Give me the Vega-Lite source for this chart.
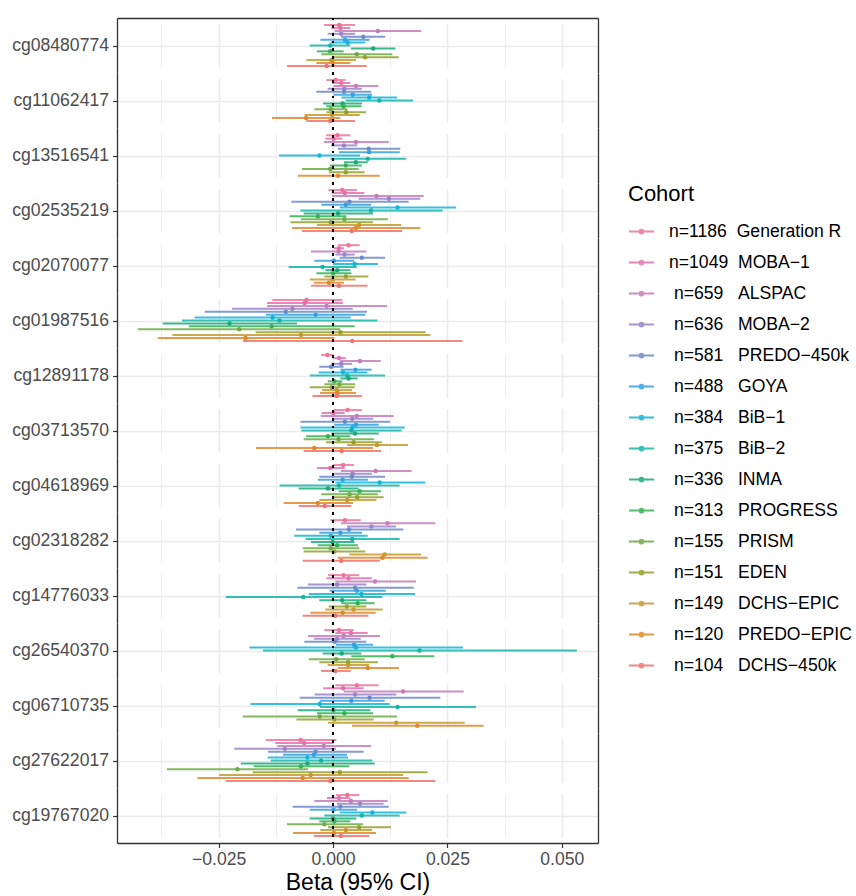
{
"$schema": "https://vega.github.io/schema/vega-lite/v6.json",
"padding": {"left": 5, "top": 17, "right": 0, "bottom": 0},
"bounds": "flush",
"config": {"font": "Liberation Sans", "view": {"stroke": null}},
"data": {"values": [
{"cpg":"cg08480774","cohort":"Generation R","beta":0.00135,"lower":-0.00197,"upper":0.00481},
{"cpg":"cg08480774","cohort":"MOBA-1","beta":0.0016,"lower":-0.00036,"upper":0.00379},
{"cpg":"cg08480774","cohort":"ALSPAC","beta":0.0098,"lower":0.00036,"upper":0.0193},
{"cpg":"cg08480774","cohort":"MOBA-2","beta":0.0018,"lower":-0.00117,"upper":0.00481},
{"cpg":"cg08480774","cohort":"PREDO-450k","beta":0.0066,"lower":0.00175,"upper":0.01143},
{"cpg":"cg08480774","cohort":"GOYA","beta":0.0026,"lower":-0.00277,"upper":0.00801},
{"cpg":"cg08480774","cohort":"BiB-1","beta":0.0032,"lower":-0.00051,"upper":0.00706},
{"cpg":"cg08480774","cohort":"BiB-2","beta":-0.0006,"lower":-0.0051,"upper":0.00379},
{"cpg":"cg08480774","cohort":"INMA","beta":0.0088,"lower":0.00393,"upper":0.01362},
{"cpg":"cg08480774","cohort":"PROGRESS","beta":-0.0006,"lower":-0.0035,"upper":0.00233},
{"cpg":"cg08480774","cohort":"PRISM","beta":0.0052,"lower":-0.00255,"upper":0.01296},
{"cpg":"cg08480774","cohort":"EDEN","beta":0.007,"lower":-0.00022,"upper":0.01435},
{"cpg":"cg08480774","cohort":"DCHS-EPIC","beta":-0.0004,"lower":-0.00583,"upper":0.00503},
{"cpg":"cg08480774","cohort":"PREDO-EPIC","beta":0.0,"lower":-0.00364,"upper":0.00379},
{"cpg":"cg08480774","cohort":"DCHS-450k","beta":-0.0014,"lower":-0.01005,"upper":0.00736},
{"cpg":"cg11062417","cohort":"Generation R","beta":0.0006,"lower":-0.00146,"upper":0.00277},
{"cpg":"cg11062417","cohort":"MOBA-1","beta":0.0018,"lower":-0.00022,"upper":0.00379},
{"cpg":"cg11062417","cohort":"ALSPAC","beta":0.005,"lower":0.00015,"upper":0.0099},
{"cpg":"cg11062417","cohort":"MOBA-2","beta":0.0025,"lower":-0.00117,"upper":0.00634},
{"cpg":"cg11062417","cohort":"PREDO-450k","beta":0.0024,"lower":-0.00364,"upper":0.00838},
{"cpg":"cg11062417","cohort":"GOYA","beta":0.0043,"lower":0.00015,"upper":0.00852},
{"cpg":"cg11062417","cohort":"BiB-1","beta":0.0079,"lower":0.00182,"upper":0.01398},
{"cpg":"cg11062417","cohort":"BiB-2","beta":0.0101,"lower":0.00277,"upper":0.01748},
{"cpg":"cg11062417","cohort":"INMA","beta":0.0021,"lower":-0.00218,"upper":0.00634},
{"cpg":"cg11062417","cohort":"PROGRESS","beta":0.0023,"lower":-0.0015,"upper":0.0062},
{"cpg":"cg11062417","cohort":"PRISM","beta":-0.0005,"lower":-0.00408,"upper":0.00306},
{"cpg":"cg11062417","cohort":"EDEN","beta":0.0029,"lower":-0.00146,"upper":0.00721},
{"cpg":"cg11062417","cohort":"DCHS-EPIC","beta":-0.0002,"lower":-0.00619,"upper":0.00583},
{"cpg":"cg11062417","cohort":"PREDO-EPIC","beta":-0.0059,"lower":-0.01333,"upper":0.0016},
{"cpg":"cg11062417","cohort":"DCHS-450k","beta":-0.0006,"lower":-0.00583,"upper":0.00481},
{"cpg":"cg13516541","cohort":"Generation R","beta":0.001,"lower":-0.0015,"upper":0.0038},
{"cpg":"cg13516541","cohort":"MOBA-1","beta":0.00015,"lower":-0.0017,"upper":0.002},
{"cpg":"cg13516541","cohort":"ALSPAC","beta":0.005,"lower":-0.002,"upper":0.0122},
{"cpg":"cg13516541","cohort":"MOBA-2","beta":0.0024,"lower":-0.0004,"upper":0.0053},
{"cpg":"cg13516541","cohort":"PREDO-450k","beta":0.0078,"lower":0.00105,"upper":0.0147},
{"cpg":"cg13516541","cohort":"GOYA","beta":0.0079,"lower":0.0013,"upper":0.0146},
{"cpg":"cg13516541","cohort":"BiB-1","beta":-0.00295,"lower":-0.0118,"upper":0.0059},
{"cpg":"cg13516541","cohort":"BiB-2","beta":0.0076,"lower":-0.00055,"upper":0.016},
{"cpg":"cg13516541","cohort":"INMA","beta":0.005,"lower":0.0024,"upper":0.0076},
{"cpg":"cg13516541","cohort":"PROGRESS","beta":0.0028,"lower":-0.0007,"upper":0.0063},
{"cpg":"cg13516541","cohort":"PRISM","beta":-0.0006,"lower":-0.0068,"upper":0.0056},
{"cpg":"cg13516541","cohort":"EDEN","beta":0.0028,"lower":-0.0009,"upper":0.0069},
{"cpg":"cg13516541","cohort":"PREDO-EPIC","beta":0.0011,"lower":-0.0077,"upper":0.0102},
{"cpg":"cg02535219","cohort":"Generation R","beta":0.002,"lower":-0.00102,"upper":0.00524},
{"cpg":"cg02535219","cohort":"MOBA-1","beta":0.0026,"lower":-0.00036,"upper":0.00685},
{"cpg":"cg02535219","cohort":"ALSPAC","beta":0.0095,"lower":-0.00022,"upper":0.01981},
{"cpg":"cg02535219","cohort":"MOBA-2","beta":0.0122,"lower":0.00561,"upper":0.01908},
{"cpg":"cg02535219","cohort":"PREDO-450k","beta":0.0036,"lower":-0.0091,"upper":0.01653},
{"cpg":"cg02535219","cohort":"GOYA","beta":0.0028,"lower":-0.00255,"upper":0.0083},
{"cpg":"cg02535219","cohort":"BiB-1","beta":0.0141,"lower":0.00146,"upper":0.02688},
{"cpg":"cg02535219","cohort":"BiB-2","beta":0.0083,"lower":-0.00714,"upper":0.02396},
{"cpg":"cg02535219","cohort":"INMA","beta":0.0011,"lower":-0.00641,"upper":0.00874},
{"cpg":"cg02535219","cohort":"PROGRESS","beta":-0.0033,"lower":-0.00947,"upper":0.00291},
{"cpg":"cg02535219","cohort":"PRISM","beta":0.0025,"lower":-0.007,"upper":0.012},
{"cpg":"cg02535219","cohort":"EDEN","beta":-0.0005,"lower":-0.00932,"upper":0.00874},
{"cpg":"cg02535219","cohort":"DCHS-EPIC","beta":0.0057,"lower":-0.0035,"upper":0.01493},
{"cpg":"cg02535219","cohort":"PREDO-EPIC","beta":0.005,"lower":-0.00896,"upper":0.01908},
{"cpg":"cg02535219","cohort":"DCHS-450k","beta":0.0041,"lower":-0.00677,"upper":0.01508},
{"cpg":"cg02070077","cohort":"Generation R","beta":0.0034,"lower":0.00109,"upper":0.00583},
{"cpg":"cg02070077","cohort":"MOBA-1","beta":0.0013,"lower":0.0002,"upper":0.0024},
{"cpg":"cg02070077","cohort":"ALSPAC","beta":0.0012,"lower":-0.00481,"upper":0.00728},
{"cpg":"cg02070077","cohort":"MOBA-2","beta":0.0025,"lower":0.00051,"upper":0.00473},
{"cpg":"cg02070077","cohort":"PREDO-450k","beta":0.0063,"lower":0.00146,"upper":0.01136},
{"cpg":"cg02070077","cohort":"GOYA","beta":0.0002,"lower":-0.00408,"upper":0.00466},
{"cpg":"cg02070077","cohort":"BiB-1","beta":0.0047,"lower":0.0,"upper":0.00983},
{"cpg":"cg02070077","cohort":"BiB-2","beta":-0.0023,"lower":-0.00969,"upper":0.0052},
{"cpg":"cg02070077","cohort":"INMA","beta":0.0009,"lower":-0.00168,"upper":0.00379},
{"cpg":"cg02070077","cohort":"PROGRESS","beta":0.0,"lower":-0.00364,"upper":0.00401},
{"cpg":"cg02070077","cohort":"EDEN","beta":0.0028,"lower":-0.00189,"upper":0.00772},
{"cpg":"cg02070077","cohort":"DCHS-EPIC","beta":-0.0001,"lower":-0.0051,"upper":0.00495},
{"cpg":"cg02070077","cohort":"PREDO-EPIC","beta":-0.0009,"lower":-0.00415,"upper":0.0024},
{"cpg":"cg02070077","cohort":"DCHS-450k","beta":0.0013,"lower":-0.00481,"upper":0.00757},
{"cpg":"cg01987516","cohort":"Generation R","beta":-0.0058,"lower":-0.01326,"upper":0.00204},
{"cpg":"cg01987516","cohort":"MOBA-1","beta":-0.0062,"lower":-0.01442,"upper":0.00218},
{"cpg":"cg01987516","cohort":"ALSPAC","beta":-0.0014,"lower":-0.01442,"upper":0.0118},
{"cpg":"cg01987516","cohort":"MOBA-2","beta":-0.0089,"lower":-0.02207,"upper":0.0043},
{"cpg":"cg01987516","cohort":"PREDO-450k","beta":-0.0103,"lower":-0.02804,"upper":0.00743},
{"cpg":"cg01987516","cohort":"GOYA","beta":-0.0038,"lower":-0.01464,"upper":0.00706},
{"cpg":"cg01987516","cohort":"BiB-1","beta":-0.0132,"lower":-0.03023,"upper":0.00386},
{"cpg":"cg01987516","cohort":"BiB-2","beta":-0.0117,"lower":-0.03299,"upper":0.00969},
{"cpg":"cg01987516","cohort":"INMA","beta":-0.0226,"lower":-0.03722,"upper":-0.00787},
{"cpg":"cg01987516","cohort":"PROGRESS","beta":-0.0134,"lower":-0.03154,"upper":0.00473},
{"cpg":"cg01987516","cohort":"PRISM","beta":-0.0205,"lower":-0.04261,"upper":0.00153},
{"cpg":"cg01987516","cohort":"EDEN","beta":0.0016,"lower":-0.0169,"upper":0.02025},
{"cpg":"cg01987516","cohort":"DCHS-EPIC","beta":-0.007,"lower":-0.03511,"upper":0.02127},
{"cpg":"cg01987516","cohort":"PREDO-EPIC","beta":-0.0191,"lower":-0.03831,"upper":0.00029},
{"cpg":"cg01987516","cohort":"DCHS-450k","beta":0.0042,"lower":-0.01967,"upper":0.02826},
{"cpg":"cg12891178","cohort":"Generation R","beta":-0.0012,"lower":-0.00262,"upper":0.0},
{"cpg":"cg12891178","cohort":"MOBA-1","beta":0.0013,"lower":0.0,"upper":0.00277},
{"cpg":"cg12891178","cohort":"ALSPAC","beta":0.0059,"lower":0.00146,"upper":0.01042},
{"cpg":"cg12891178","cohort":"MOBA-2","beta":0.0018,"lower":-0.00036,"upper":0.00415},
{"cpg":"cg12891178","cohort":"PREDO-450k","beta":-0.0004,"lower":-0.00299,"upper":0.00233},
{"cpg":"cg12891178","cohort":"GOYA","beta":0.0049,"lower":0.0016,"upper":0.00845},
{"cpg":"cg12891178","cohort":"BiB-1","beta":0.0022,"lower":-0.00313,"upper":0.00743},
{"cpg":"cg12891178","cohort":"BiB-2","beta":0.0031,"lower":-0.0051,"upper":0.01136},
{"cpg":"cg12891178","cohort":"INMA","beta":0.0034,"lower":0.0016,"upper":0.00539},
{"cpg":"cg12891178","cohort":"PROGRESS","beta":0.0003,"lower":-0.00117,"upper":0.00204},
{"cpg":"cg12891178","cohort":"PRISM","beta":0.0014,"lower":-0.00189,"upper":0.00481},
{"cpg":"cg12891178","cohort":"EDEN","beta":-0.0003,"lower":-0.0051,"upper":0.00473},
{"cpg":"cg12891178","cohort":"DCHS-EPIC","beta":0.0008,"lower":-0.0024,"upper":0.00415},
{"cpg":"cg12891178","cohort":"PREDO-EPIC","beta":0.001,"lower":-0.00284,"upper":0.00503},
{"cpg":"cg12891178","cohort":"DCHS-450k","beta":0.0008,"lower":-0.00452,"upper":0.00634},
{"cpg":"cg03713570","cohort":"Generation R","beta":0.0032,"lower":0.00022,"upper":0.00634},
{"cpg":"cg03713570","cohort":"MOBA-1","beta":0.0001,"lower":-0.00248,"upper":0.00255},
{"cpg":"cg03713570","cohort":"ALSPAC","beta":0.0052,"lower":-0.00269,"upper":0.01326},
{"cpg":"cg03713570","cohort":"MOBA-2","beta":0.0042,"lower":-0.00022,"upper":0.00881},
{"cpg":"cg03713570","cohort":"PREDO-450k","beta":0.0026,"lower":-0.00714,"upper":0.01245},
{"cpg":"cg03713570","cohort":"GOYA","beta":0.005,"lower":0.00029,"upper":0.00998},
{"cpg":"cg03713570","cohort":"BiB-1","beta":0.0042,"lower":-0.00714,"upper":0.01566},
{"cpg":"cg03713570","cohort":"BiB-2","beta":0.004,"lower":-0.00692,"upper":0.015},
{"cpg":"cg03713570","cohort":"INMA","beta":0.0048,"lower":-0.0004,"upper":0.01},
{"cpg":"cg03713570","cohort":"PROGRESS","beta":-0.0011,"lower":-0.0059,"upper":0.00379},
{"cpg":"cg03713570","cohort":"PRISM","beta":0.0012,"lower":-0.00641,"upper":0.00896},
{"cpg":"cg03713570","cohort":"EDEN","beta":0.0045,"lower":-0.00153,"upper":0.01071},
{"cpg":"cg03713570","cohort":"DCHS-EPIC","beta":0.0096,"lower":0.00306,"upper":0.01639},
{"cpg":"cg03713570","cohort":"PREDO-EPIC","beta":-0.0041,"lower":-0.01682,"upper":0.00874},
{"cpg":"cg03713570","cohort":"DCHS-450k","beta":0.0019,"lower":-0.00641,"upper":0.01049},
{"cpg":"cg04618969","cohort":"Generation R","beta":0.0022,"lower":0.0,"upper":0.00459},
{"cpg":"cg04618969","cohort":"MOBA-1","beta":-0.0006,"lower":-0.0035,"upper":0.00255},
{"cpg":"cg04618969","cohort":"ALSPAC","beta":0.0093,"lower":0.00175,"upper":0.01719},
{"cpg":"cg04618969","cohort":"MOBA-2","beta":0.0043,"lower":0.00029,"upper":0.00852},
{"cpg":"cg04618969","cohort":"PREDO-450k","beta":0.0041,"lower":-0.00299,"upper":0.01136},
{"cpg":"cg04618969","cohort":"GOYA","beta":0.0021,"lower":-0.00328,"upper":0.00765},
{"cpg":"cg04618969","cohort":"BiB-1","beta":0.0102,"lower":0.00051,"upper":0.02017},
{"cpg":"cg04618969","cohort":"BiB-2","beta":0.0013,"lower":-0.01165,"upper":0.01457},
{"cpg":"cg04618969","cohort":"INMA","beta":-0.0011,"lower":-0.0075,"upper":0.00561},
{"cpg":"cg04618969","cohort":"PROGRESS","beta":0.0058,"lower":0.00124,"upper":0.01049},
{"cpg":"cg04618969","cohort":"PRISM","beta":0.0036,"lower":-0.00255,"upper":0.00976},
{"cpg":"cg04618969","cohort":"EDEN","beta":0.0053,"lower":-0.00022,"upper":0.01107},
{"cpg":"cg04618969","cohort":"DCHS-EPIC","beta":0.0031,"lower":-0.00299,"upper":0.00947},
{"cpg":"cg04618969","cohort":"PREDO-EPIC","beta":-0.0033,"lower":-0.01078,"upper":0.00437},
{"cpg":"cg04618969","cohort":"DCHS-450k","beta":-0.0018,"lower":-0.0075,"upper":0.00401},
{"cpg":"cg02318282","cohort":"Generation R","beta":0.0026,"lower":-0.00058,"upper":0.00605},
{"cpg":"cg02318282","cohort":"ALSPAC","beta":0.0119,"lower":0.00175,"upper":0.02236},
{"cpg":"cg02318282","cohort":"MOBA-2","beta":0.0084,"lower":0.00306,"upper":0.01377},
{"cpg":"cg02318282","cohort":"PREDO-450k","beta":0.0035,"lower":-0.00808,"upper":0.01537},
{"cpg":"cg02318282","cohort":"GOYA","beta":0.0016,"lower":-0.00299,"upper":0.00634},
{"cpg":"cg02318282","cohort":"BiB-1","beta":-0.0005,"lower":-0.00845,"upper":0.00757},
{"cpg":"cg02318282","cohort":"BiB-2","beta":0.0042,"lower":-0.00597,"upper":0.01457},
{"cpg":"cg02318282","cohort":"INMA","beta":-0.0001,"lower":-0.00481,"upper":0.00466},
{"cpg":"cg02318282","cohort":"PROGRESS","beta":0.0009,"lower":-0.00335,"upper":0.00546},
{"cpg":"cg02318282","cohort":"PRISM","beta":-0.0005,"lower":-0.00663,"upper":0.00575},
{"cpg":"cg02318282","cohort":"EDEN","beta":0.0003,"lower":-0.00641,"upper":0.00706},
{"cpg":"cg02318282","cohort":"DCHS-EPIC","beta":0.0113,"lower":0.00357,"upper":0.01923},
{"cpg":"cg02318282","cohort":"PREDO-EPIC","beta":0.0108,"lower":0.00102,"upper":0.02068},
{"cpg":"cg02318282","cohort":"DCHS-450k","beta":0.0018,"lower":-0.00663,"upper":0.01027},
{"cpg":"cg14776033","cohort":"Generation R","beta":0.0023,"lower":-0.00109,"upper":0.00575},
{"cpg":"cg14776033","cohort":"MOBA-1","beta":0.0034,"lower":-0.00146,"upper":0.00852},
{"cpg":"cg14776033","cohort":"ALSPAC","beta":0.0092,"lower":0.00051,"upper":0.01814},
{"cpg":"cg14776033","cohort":"MOBA-2","beta":0.0009,"lower":-0.0055,"upper":0.0073},
{"cpg":"cg14776033","cohort":"PREDO-450k","beta":0.0048,"lower":-0.00779,"upper":0.01763},
{"cpg":"cg14776033","cohort":"GOYA","beta":0.0052,"lower":-0.00073,"upper":0.01151},
{"cpg":"cg14776033","cohort":"BiB-1","beta":0.0062,"lower":-0.00532,"upper":0.01792},
{"cpg":"cg14776033","cohort":"BiB-2","beta":-0.0065,"lower":-0.02345,"upper":0.01078},
{"cpg":"cg14776033","cohort":"INMA","beta":0.002,"lower":-0.00299,"upper":0.00728},
{"cpg":"cg14776033","cohort":"PROGRESS","beta":0.0054,"lower":0.00182,"upper":0.0091},
{"cpg":"cg14776033","cohort":"EDEN","beta":0.003,"lower":-0.00095,"upper":0.00728},
{"cpg":"cg14776033","cohort":"DCHS-EPIC","beta":0.0045,"lower":-0.00168,"upper":0.01085},
{"cpg":"cg14776033","cohort":"PREDO-EPIC","beta":0.0021,"lower":-0.00495,"upper":0.00932},
{"cpg":"cg14776033","cohort":"DCHS-450k","beta":0.0005,"lower":-0.00663,"upper":0.00772},
{"cpg":"cg26540370","cohort":"Generation R","beta":0.0013,"lower":-0.00189,"upper":0.00452},
{"cpg":"cg26540370","cohort":"MOBA-1","beta":0.0039,"lower":0.00051,"upper":0.00757},
{"cpg":"cg26540370","cohort":"ALSPAC","beta":0.0023,"lower":-0.00546,"upper":0.01027},
{"cpg":"cg26540370","cohort":"MOBA-2","beta":0.0009,"lower":-0.00415,"upper":0.00605},
{"cpg":"cg26540370","cohort":"PREDO-450k","beta":0.0004,"lower":-0.00626,"upper":0.00728},
{"cpg":"cg26540370","cohort":"GOYA","beta":0.0046,"lower":0.00066,"upper":0.00874},
{"cpg":"cg26540370","cohort":"BiB-1","beta":0.005,"lower":-0.01828,"upper":0.0284},
{"cpg":"cg26540370","cohort":"BiB-2","beta":0.0189,"lower":-0.0153,"upper":0.05328},
{"cpg":"cg26540370","cohort":"INMA","beta":0.0019,"lower":-0.00226,"upper":0.00619},
{"cpg":"cg26540370","cohort":"PROGRESS","beta":0.013,"lower":0.00401,"upper":0.02214},
{"cpg":"cg26540370","cohort":"PRISM","beta":0.0007,"lower":-0.00532,"upper":0.00692},
{"cpg":"cg26540370","cohort":"EDEN","beta":0.0033,"lower":-0.00299,"upper":0.00983},
{"cpg":"cg26540370","cohort":"DCHS-EPIC","beta":0.0033,"lower":-0.00117,"upper":0.00787},
{"cpg":"cg26540370","cohort":"PREDO-EPIC","beta":0.0076,"lower":0.00102,"upper":0.01442},
{"cpg":"cg26540370","cohort":"DCHS-450k","beta":0.0005,"lower":-0.00262,"upper":0.00386},
{"cpg":"cg06710735","cohort":"Generation R","beta":0.0052,"lower":0.00051,"upper":0.00998},
{"cpg":"cg06710735","cohort":"MOBA-1","beta":0.0022,"lower":-0.00218,"upper":0.0067},
{"cpg":"cg06710735","cohort":"ALSPAC","beta":0.0153,"lower":0.00233,"upper":0.02855},
{"cpg":"cg06710735","cohort":"MOBA-2","beta":0.0048,"lower":-0.00401,"upper":0.01384},
{"cpg":"cg06710735","cohort":"PREDO-450k","beta":0.008,"lower":-0.00728,"upper":0.02345},
{"cpg":"cg06710735","cohort":"GOYA","beta":0.004,"lower":-0.00291,"upper":0.01129},
{"cpg":"cg06710735","cohort":"BiB-1","beta":-0.0029,"lower":-0.01806,"upper":0.01238},
{"cpg":"cg06710735","cohort":"BiB-2","beta":0.0141,"lower":-0.00291,"upper":0.03125},
{"cpg":"cg06710735","cohort":"INMA","beta":0.0001,"lower":-0.00772,"upper":0.00816},
{"cpg":"cg06710735","cohort":"PROGRESS","beta":0.0025,"lower":-0.0035,"upper":0.00874},
{"cpg":"cg06710735","cohort":"PRISM","beta":-0.0029,"lower":-0.01974,"upper":0.01398},
{"cpg":"cg06710735","cohort":"EDEN","beta":0.0003,"lower":-0.00801,"upper":0.00888},
{"cpg":"cg06710735","cohort":"DCHS-EPIC","beta":0.0138,"lower":-0.00109,"upper":0.02877},
{"cpg":"cg06710735","cohort":"PREDO-EPIC","beta":0.0184,"lower":0.00415,"upper":0.03292},
{"cpg":"cg27622017","cohort":"Generation R","beta":-0.0071,"lower":-0.01471,"upper":0.00073},
{"cpg":"cg27622017","cohort":"MOBA-1","beta":-0.0063,"lower":-0.0126,"upper":0.0},
{"cpg":"cg27622017","cohort":"ALSPAC","beta":-0.002,"lower":-0.01216,"upper":0.0083},
{"cpg":"cg27622017","cohort":"MOBA-2","beta":-0.0105,"lower":-0.02156,"upper":0.00066},
{"cpg":"cg27622017","cohort":"PREDO-450k","beta":-0.0038,"lower":-0.0142,"upper":0.0067},
{"cpg":"cg27622017","cohort":"GOYA","beta":-0.0042,"lower":-0.01093,"upper":0.00306},
{"cpg":"cg27622017","cohort":"BiB-1","beta":-0.0056,"lower":-0.01428,"upper":0.00328},
{"cpg":"cg27622017","cohort":"BiB-2","beta":-0.0026,"lower":-0.01362,"upper":0.00859},
{"cpg":"cg27622017","cohort":"INMA","beta":-0.0056,"lower":-0.02017,"upper":0.0091},
{"cpg":"cg27622017","cohort":"PROGRESS","beta":-0.007,"lower":-0.01733,"upper":0.00357},
{"cpg":"cg27622017","cohort":"PRISM","beta":-0.0209,"lower":-0.03627,"upper":-0.00546},
{"cpg":"cg27622017","cohort":"EDEN","beta":0.0015,"lower":-0.01755,"upper":0.02068},
{"cpg":"cg27622017","cohort":"DCHS-EPIC","beta":-0.0049,"lower":-0.02491,"upper":0.0153},
{"cpg":"cg27622017","cohort":"PREDO-EPIC","beta":-0.0066,"lower":-0.02964,"upper":0.01653},
{"cpg":"cg27622017","cohort":"DCHS-450k","beta":-0.0006,"lower":-0.02338,"upper":0.02236},
{"cpg":"cg19767020","cohort":"Generation R","beta":0.0031,"lower":0.00066,"upper":0.00575},
{"cpg":"cg19767020","cohort":"MOBA-1","beta":0.0013,"lower":-0.00131,"upper":0.00379},
{"cpg":"cg19767020","cohort":"ALSPAC","beta":0.0039,"lower":-0.00408,"upper":0.01194},
{"cpg":"cg19767020","cohort":"MOBA-2","beta":0.0059,"lower":0.00087,"upper":0.01107},
{"cpg":"cg19767020","cohort":"PREDO-450k","beta":0.0016,"lower":-0.00881,"upper":0.01216},
{"cpg":"cg19767020","cohort":"GOYA","beta":0.0001,"lower":-0.0051,"upper":0.00524},
{"cpg":"cg19767020","cohort":"BiB-1","beta":0.0086,"lower":0.00146,"upper":0.01602},
{"cpg":"cg19767020","cohort":"BiB-2","beta":0.0063,"lower":-0.00189,"upper":0.01457},
{"cpg":"cg19767020","cohort":"INMA","beta":0.0,"lower":-0.0051,"upper":0.0051},
{"cpg":"cg19767020","cohort":"PROGRESS","beta":0.0003,"lower":-0.00299,"upper":0.00379},
{"cpg":"cg19767020","cohort":"PRISM","beta":-0.0019,"lower":-0.01005,"upper":0.00655},
{"cpg":"cg19767020","cohort":"EDEN","beta":0.0057,"lower":-0.00109,"upper":0.01267},
{"cpg":"cg19767020","cohort":"DCHS-EPIC","beta":0.0028,"lower":-0.00277,"upper":0.00852},
{"cpg":"cg19767020","cohort":"PREDO-EPIC","beta":0.0002,"lower":-0.00874,"upper":0.0094},
{"cpg":"cg19767020","cohort":"DCHS-450k","beta":0.0017,"lower":-0.00422,"upper":0.00794}
]},
"facet": {"row": {"field": "cpg", "type": "nominal", "header": null,
  "sort": ["cg08480774","cg11062417","cg13516541","cg02535219","cg02070077","cg01987516","cg12891178","cg03713570","cg04618969","cg02318282","cg14776033","cg26540370","cg06710735","cg27622017","cg19767020"]}},
"spacing": 0,
"spec": {
  "width": 481,
  "height": 55,
  "layer": [
    {"mark": {"type": "rule", "strokeWidth": 2, "opacity": 0.85},
     "encoding": {
       "y": {"field": "cohort", "type": "nominal",
             "sort": ["Generation R","MOBA-1","ALSPAC","MOBA-2","PREDO-450k","GOYA","BiB-1","BiB-2","INMA","PROGRESS","PRISM","EDEN","DCHS-EPIC","PREDO-EPIC","DCHS-450k"],
             "scale": {"range": [5.6, 49.4], "paddingInner": 0, "paddingOuter": 0},
             "axis": null},
       "x": {"field": "lower", "type": "quantitative",
             "scale": {"domain": [-0.0472, 0.0579], "nice": false, "zero": false},
             "axis": {"orient": "bottom", "title": "Beta (95% CI)",
                      "values": [-0.0375, -0.025, -0.0125, 0, 0.0125, 0.025, 0.0375, 0.05],
                      "labelExpr": "datum.value === -0.025 ? '\u22120.025' : datum.value === 0 ? '0.000' : datum.value === 0.025 ? '0.025' : datum.value === 0.05 ? '0.050' : ''",
                      "labelOverlap": false, "labelFlush": false,
                      "grid": true, "gridColor": "#EBEBEB",
                      "gridWidth": {"condition": {"test": "datum.value === -0.025 || datum.value === 0 || datum.value === 0.025 || datum.value === 0.05", "value": 1.6}, "value": 0.8},
                      "tickOpacity": {"condition": {"test": "datum.value === -0.025 || datum.value === 0 || datum.value === 0.025 || datum.value === 0.05", "value": 1}, "value": 0},
                      "tickSize": 4.5, "tickColor": "#333333", "tickWidth": 1.2,
                      "labelFontSize": 17.6, "labelColor": "#4D4D4D", "labelPadding": 3,
                      "domainColor": "#333333", "domainWidth": 1.3,
                      "titleFontSize": 23, "titleFontWeight": "normal", "titleColor": "#000000", "titlePadding": 3}},
       "x2": {"field": "upper"},
       "color": {"field": "cohort", "type": "nominal",
                 "scale": {"domain": ["Generation R","MOBA-1","ALSPAC","MOBA-2","PREDO-450k","GOYA","BiB-1","BiB-2","INMA","PROGRESS","PRISM","EDEN","DCHS-EPIC","PREDO-EPIC","DCHS-450k"],
                           "range": ["#F0739B","#E371AE","#C67CB8","#9B83C6","#6D8ACB","#36A0DF","#11B5DA","#13B5A9","#17AB7A","#33B254","#6DAB45","#95A02D","#C6992E","#E2872A","#EE746C"]},
                 "legend": {"title": "Cohort", "orient": "none", "legendX": 511, "legendY": 166,
                            "titleFontSize": 22, "titleFontWeight": "normal", "titleColor": "#000000", "titlePadding": 12,
                            "labelFontSize": 17.6, "labelColor": "#000000", "labelOffset": 14, "labelLimit": 0,
                            "symbolType": "M-1,0L1,0M-0.15,0A0.15,0.15,0,1,1,0.15,0A0.15,0.15,0,1,1,-0.15,0Z",
                            "symbolSize": 625, "symbolStrokeWidth": 2, "rowPadding": 8,
                            "labelExpr": "({'Generation R': 'n=1186\u00a0\u00a0Generation R', 'MOBA-1': 'n=1049\u00a0\u00a0MOBA\u22121', 'ALSPAC': '\u200b\u00a0n=659\u00a0\u00a0\u00a0ALSPAC', 'MOBA-2': '\u200b\u00a0n=636\u00a0\u00a0\u00a0MOBA\u22122', 'PREDO-450k': '\u200b\u00a0n=581\u00a0\u00a0\u00a0PREDO\u2212450k', 'GOYA': '\u200b\u00a0n=488\u00a0\u00a0\u00a0GOYA', 'BiB-1': '\u200b\u00a0n=384\u00a0\u00a0\u00a0BiB\u22121', 'BiB-2': '\u200b\u00a0n=375\u00a0\u00a0\u00a0BiB\u22122', 'INMA': '\u200b\u00a0n=336\u00a0\u00a0\u00a0INMA', 'PROGRESS': '\u200b\u00a0n=313\u00a0\u00a0\u00a0PROGRESS', 'PRISM': '\u200b\u00a0n=155\u00a0\u00a0\u00a0PRISM', 'EDEN': '\u200b\u00a0n=151\u00a0\u00a0\u00a0EDEN', 'DCHS-EPIC': '\u200b\u00a0n=149\u00a0\u00a0\u00a0DCHS\u2212EPIC', 'PREDO-EPIC': '\u200b\u00a0n=120\u00a0\u00a0\u00a0PREDO\u2212EPIC', 'DCHS-450k': '\u200b\u00a0n=104\u00a0\u00a0\u00a0DCHS\u2212450k'})[datum.label]",
                            "encode": {"symbols": {"update": {"stroke": {"scale": "color", "field": "value"}, "fill": {"scale": "color", "field": "value"}, "strokeWidth": {"value": 2}, "opacity": {"value": 1}}}}}}
     }},
    {"mark": {"type": "point", "filled": true, "size": 20, "opacity": 1},
     "encoding": {
       "y": {"field": "cohort", "type": "nominal",
             "sort": ["Generation R","MOBA-1","ALSPAC","MOBA-2","PREDO-450k","GOYA","BiB-1","BiB-2","INMA","PROGRESS","PRISM","EDEN","DCHS-EPIC","PREDO-EPIC","DCHS-450k"],
             "scale": {"range": [5.6, 49.4], "paddingInner": 0, "paddingOuter": 0},
             "axis": null},
       "x": {"field": "beta", "type": "quantitative", "axis": null},
       "color": {"field": "cohort", "type": "nominal"}
     }},
    {"mark": {"type": "point", "opacity": 0},
     "encoding": {
       "y": {"field": "cpg", "type": "nominal", "scale": {"paddingInner": 0, "paddingOuter": 0},
             "axis": {"orient": "left", "title": null, "grid": true, "gridColor": "#EBEBEB", "gridWidth": 1.6,
                      "labelFontSize": 17.6, "labelColor": "#4D4D4D", "labelPadding": 4,
                      "tickSize": 4.5, "tickColor": "#333333", "tickWidth": 1.2,
                      "domainColor": "#333333", "domainWidth": 1.3,
                      "minExtent": 112, "maxExtent": 112, "bandPosition": 0.5}},
       "x": {"field": "beta", "type": "quantitative",
             "axis": {"orient": "top", "title": null, "labels": false, "ticks": false, "grid": false, "domain": true, "domainColor": "#333333", "domainWidth": 1.3}}
     }},
    {"mark": {"type": "point", "opacity": 0},
     "encoding": {
       "y": {"field": "cpg", "type": "nominal", "scale": {"paddingInner": 0, "paddingOuter": 0},
             "axis": {"orient": "right", "title": null, "labels": false, "ticks": false, "grid": false, "domain": true, "domainColor": "#333333", "domainWidth": 1.3}}
     }},
    {"mark": {"type": "rule", "color": "#000000", "strokeWidth": 1.8, "strokeDash": [2, 5.7]},
     "encoding": {"x": {"datum": 0, "axis": null}}}
  ],
  "resolve": {"scale": {"y": "independent"}}
},
"resolve": {"scale": {"y": "independent"}}
}
